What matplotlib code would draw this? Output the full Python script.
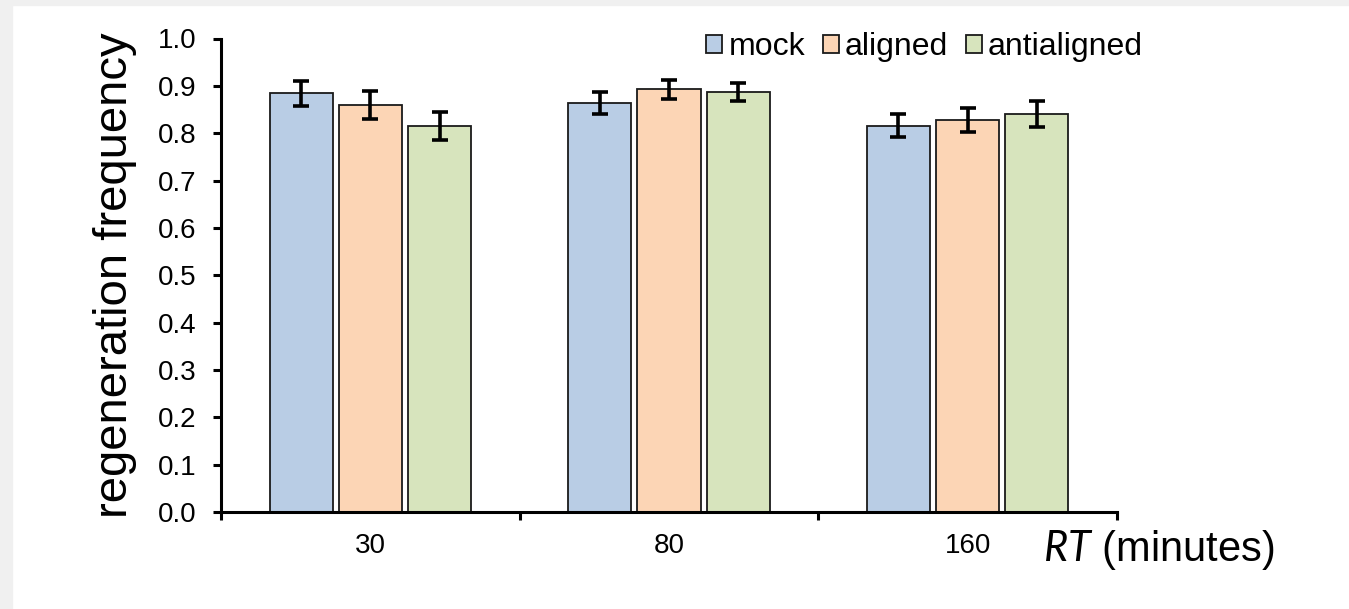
import matplotlib.pyplot as plt
import numpy as np
from matplotlib.patches import Rectangle
from matplotlib.ticker import FixedLocator, FormatStrFormatter

# regeneration frequency per recovery time
times = ["30", "80", "160"]
series = ["mock", "aligned", "antialigned"]
mock_vals = [0.884, 0.863, 0.816]
aligned_vals = [0.860, 0.893, 0.828]
anti_vals = [0.815, 0.887, 0.841]
mock_err = [0.027, 0.023, 0.024]
aligned_err = [0.029, 0.020, 0.025]
anti_err = [0.030, 0.020, 0.027]

colors = ["#B9CDE5", "#FCD5B5", "#D7E4BD"]

plt.rcParams["font.family"] = ["Liberation Sans", "DejaVu Sans"]
plt.rcParams["mathtext.fontset"] = "custom"
plt.rcParams["mathtext.rm"] = "Lato"
plt.rcParams["mathtext.it"] = "Lato:italic"

W, H = 1349, 609
fig = plt.figure(figsize=(W / 100, H / 100), dpi=100)

# light grey frame strips on the left and top edge
fig.patches.append(Rectangle((0, 0), 12 / W, 1, transform=fig.transFigure,
                             color="#F0F0F0", zorder=-10))
fig.patches.append(Rectangle((0, 1 - 5 / H), 1, 5 / H, transform=fig.transFigure,
                             color="#F0F0F0", zorder=-10))

ax = fig.add_axes([221 / W, 1 - 512 / H, (1117 - 221) / W, (512 - 38.5) / H])

x = np.arange(len(times))
width = 0.211
step = 0.232
vals = [mock_vals, aligned_vals, anti_vals]
errs = [mock_err, aligned_err, anti_err]

for i, (name, v, e, c) in enumerate(zip(series, vals, errs, colors)):
    pos = x + (i - 1) * step
    ax.bar(pos, v, width, color=c, edgecolor="#1a1a1a", linewidth=1.3, label=name, zorder=2)
    ax.errorbar(pos, v, yerr=e, fmt="none", ecolor="black", elinewidth=2.6,
                capsize=6, capthick=2.6, zorder=3)

ax.set_xlim(-0.5, 2.5)
ax.set_ylim(0, 1.0)

for side in ["top", "right"]:
    ax.spines[side].set_visible(False)
for side in ["left", "bottom"]:
    ax.spines[side].set_linewidth(2.2)

ax.set_yticks(np.arange(0, 1.01, 0.1))
ax.yaxis.set_major_formatter(FormatStrFormatter("%.1f"))
ax.tick_params(axis="y", direction="out", length=5.5, width=2.2, pad=12, labelsize=20)

# category boundaries get the ticks, labels sit between them
ax.xaxis.set_major_locator(FixedLocator([-0.5, 0.5, 1.5, 2.5]))
ax.xaxis.set_minor_locator(FixedLocator(x))
ax.set_xticklabels([])
ax.set_xticklabels(times, minor=True)
ax.tick_params(axis="x", which="major", direction="out", length=6, width=2.2)
ax.tick_params(axis="x", which="minor", length=0, pad=15, labelsize=20)

ax.set_ylabel("regeneration frequency", fontsize=34, va="baseline")
ax.yaxis.set_label_coords((127 - 221) / 896, 0.5)

ax.text((1043 - 221) / 896, (512 - 550) / 473.5, r"$\mathit{RT}$ (minutes)",
        transform=ax.transAxes, fontsize=30, ha="left", va="center")

ax.legend(loc="center left", bbox_to_anchor=(706 / W, 1 - 47 / H),
          bbox_transform=fig.transFigure, ncol=3, frameon=False, fontsize=23,
          handlelength=0.5, handleheight=0.5, handletextpad=0.2, columnspacing=0.55,
          borderpad=0, borderaxespad=0)

fig.savefig("out.png", dpi=100)
